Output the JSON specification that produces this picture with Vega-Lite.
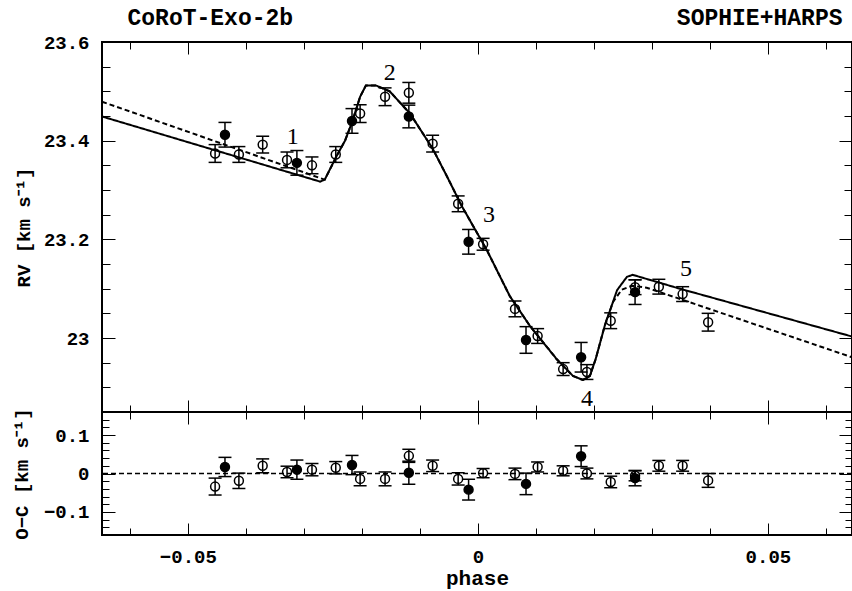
{
  "$schema": "https://vega.github.io/schema/vega-lite/v6.json",
  "background": "white",
  "padding": {"left": 11, "top": 5, "right": 0, "bottom": 0},
  "spacing": 0,
  "bounds": "flush",
  "config": {
    "view": {"stroke": "black", "strokeWidth": 2},
    "axis": {"grid": false, "domainColor": "black", "tickColor": "black", "labelColor": "black", "labelFont": "Liberation Mono", "labelFontWeight": "bold", "labelFontSize": 19, "titleColor": "black", "titleFont": "Liberation Mono", "titleFontWeight": "bold", "titleFontSize": 19, "labelFlush": false}
  },
  "datasets": {
    "obs": [
      {"phase": -0.0453, "rv": 23.374, "rvlo": 23.356, "rvhi": 23.392, "oc": -0.034, "oclo": -0.056, "ochi": -0.012, "inst": "SOPHIE"},
      {"phase": -0.0436, "rv": 23.412, "rvlo": 23.387, "rvhi": 23.437, "oc": 0.017, "oclo": -0.008, "ochi": 0.042, "inst": "HARPS"},
      {"phase": -0.0412, "rv": 23.372, "rvlo": 23.356, "rvhi": 23.388, "oc": -0.019, "oclo": -0.039, "ochi": 0.001, "inst": "SOPHIE"},
      {"phase": -0.0371, "rv": 23.392, "rvlo": 23.375, "rvhi": 23.409, "oc": 0.02, "oclo": 0.002, "ochi": 0.038, "inst": "SOPHIE"},
      {"phase": -0.0329, "rv": 23.361, "rvlo": 23.345, "rvhi": 23.377, "oc": 0.004, "oclo": -0.011, "ochi": 0.019, "inst": "SOPHIE"},
      {"phase": -0.0312, "rv": 23.355, "rvlo": 23.33, "rvhi": 23.38, "oc": 0.01, "oclo": -0.015, "ochi": 0.035, "inst": "HARPS"},
      {"phase": -0.0286, "rv": 23.35, "rvlo": 23.333, "rvhi": 23.367, "oc": 0.01, "oclo": -0.006, "ochi": 0.026, "inst": "SOPHIE"},
      {"phase": -0.0245, "rv": 23.372, "rvlo": 23.356, "rvhi": 23.388, "oc": 0.015, "oclo": -0.001, "ochi": 0.031, "inst": "SOPHIE"},
      {"phase": -0.0217, "rv": 23.44, "rvlo": 23.415, "rvhi": 23.465, "oc": 0.022, "oclo": -0.003, "ochi": 0.047, "inst": "HARPS"},
      {"phase": -0.0203, "rv": 23.455, "rvlo": 23.437, "rvhi": 23.473, "oc": -0.014, "oclo": -0.032, "ochi": 0.004, "inst": "SOPHIE"},
      {"phase": -0.016, "rv": 23.489, "rvlo": 23.471, "rvhi": 23.507, "oc": -0.014, "oclo": -0.032, "ochi": 0.004, "inst": "SOPHIE"},
      {"phase": -0.0119, "rv": 23.497, "rvlo": 23.476, "rvhi": 23.518, "oc": 0.046, "oclo": 0.029, "ochi": 0.063, "inst": "SOPHIE"},
      {"phase": -0.0119, "rv": 23.449, "rvlo": 23.426, "rvhi": 23.472, "oc": 0.002, "oclo": -0.028, "ochi": 0.032, "inst": "HARPS"},
      {"phase": -0.0078, "rv": 23.394, "rvlo": 23.377, "rvhi": 23.411, "oc": 0.02, "oclo": 0.005, "ochi": 0.035, "inst": "SOPHIE"},
      {"phase": -0.0034, "rv": 23.272, "rvlo": 23.256, "rvhi": 23.288, "oc": -0.014, "oclo": -0.03, "ochi": 0.002, "inst": "SOPHIE"},
      {"phase": -0.0016, "rv": 23.195, "rvlo": 23.17, "rvhi": 23.22, "oc": -0.042, "oclo": -0.069, "ochi": -0.015, "inst": "HARPS"},
      {"phase": 0.0009, "rv": 23.19, "rvlo": 23.178, "rvhi": 23.202, "oc": 0.001, "oclo": -0.011, "ochi": 0.013, "inst": "SOPHIE"},
      {"phase": 0.0064, "rv": 23.059, "rvlo": 23.043, "rvhi": 23.075, "oc": -0.001, "oclo": -0.016, "ochi": 0.014, "inst": "SOPHIE"},
      {"phase": 0.0083, "rv": 22.996, "rvlo": 22.969, "rvhi": 23.023, "oc": -0.027, "oclo": -0.055, "ochi": 0.001, "inst": "HARPS"},
      {"phase": 0.0103, "rv": 23.004, "rvlo": 22.989, "rvhi": 23.019, "oc": 0.017, "oclo": 0.004, "ochi": 0.03, "inst": "SOPHIE"},
      {"phase": 0.0147, "rv": 22.937, "rvlo": 22.924, "rvhi": 22.95, "oc": 0.007, "oclo": -0.006, "ochi": 0.02, "inst": "SOPHIE"},
      {"phase": 0.0178, "rv": 22.961, "rvlo": 22.931, "rvhi": 22.991, "oc": 0.045, "oclo": 0.018, "ochi": 0.072, "inst": "HARPS"},
      {"phase": 0.0188, "rv": 22.931, "rvlo": 22.916, "rvhi": 22.946, "oc": 0.0, "oclo": -0.014, "ochi": 0.014, "inst": "SOPHIE"},
      {"phase": 0.0229, "rv": 23.035, "rvlo": 23.019, "rvhi": 23.051, "oc": -0.022, "oclo": -0.037, "ochi": -0.007, "inst": "SOPHIE"},
      {"phase": 0.0271, "rv": 23.093, "rvlo": 23.068, "rvhi": 23.118, "oc": -0.012, "oclo": -0.032, "ochi": 0.008, "inst": "HARPS"},
      {"phase": 0.0271, "rv": 23.103, "rvlo": 23.088, "rvhi": 23.118, "oc": -0.006, "oclo": -0.019, "ochi": 0.007, "inst": "SOPHIE"},
      {"phase": 0.0312, "rv": 23.104, "rvlo": 23.089, "rvhi": 23.119, "oc": 0.02, "oclo": 0.006, "ochi": 0.034, "inst": "SOPHIE"},
      {"phase": 0.0353, "rv": 23.089, "rvlo": 23.074, "rvhi": 23.104, "oc": 0.02, "oclo": 0.006, "ochi": 0.034, "inst": "SOPHIE"},
      {"phase": 0.0397, "rv": 23.032, "rvlo": 23.014, "rvhi": 23.05, "oc": -0.018, "oclo": -0.036, "ochi": 0.0, "inst": "SOPHIE"}
    ],
    "model": [
      {"phase": -0.0648, "rv": 23.449, "model": "solid"},
      {"phase": -0.0272, "rv": 23.317, "model": "solid"},
      {"phase": -0.0264, "rv": 23.321, "model": "solid"},
      {"phase": -0.0243, "rv": 23.37, "model": "solid"},
      {"phase": -0.0229, "rv": 23.4, "model": "solid"},
      {"phase": -0.0217, "rv": 23.437, "model": "solid"},
      {"phase": -0.0203, "rv": 23.489, "model": "solid"},
      {"phase": -0.0193, "rv": 23.512, "model": "solid"},
      {"phase": -0.0176, "rv": 23.512, "model": "solid"},
      {"phase": -0.0152, "rv": 23.5, "model": "solid"},
      {"phase": -0.0117, "rv": 23.455, "model": "solid"},
      {"phase": -0.0078, "rv": 23.384, "model": "solid"},
      {"phase": -0.0053, "rv": 23.327, "model": "solid"},
      {"phase": -0.0028, "rv": 23.268, "model": "solid"},
      {"phase": 0.0016, "rv": 23.177, "model": "solid"},
      {"phase": 0.0055, "rv": 23.085, "model": "solid"},
      {"phase": 0.009, "rv": 23.024, "model": "solid"},
      {"phase": 0.0136, "rv": 22.957, "model": "solid"},
      {"phase": 0.0164, "rv": 22.923, "model": "solid"},
      {"phase": 0.0181, "rv": 22.915, "model": "solid"},
      {"phase": 0.0193, "rv": 22.923, "model": "solid"},
      {"phase": 0.0203, "rv": 22.957, "model": "solid"},
      {"phase": 0.0219, "rv": 23.026, "model": "solid"},
      {"phase": 0.024, "rv": 23.097, "model": "solid"},
      {"phase": 0.0257, "rv": 23.124, "model": "solid"},
      {"phase": 0.0267, "rv": 23.128, "model": "solid"},
      {"phase": 0.0348, "rv": 23.1, "model": "solid"},
      {"phase": 0.0645, "rv": 23.003, "model": "solid"},
      {"phase": -0.0648, "rv": 23.479, "model": "dashed"},
      {"phase": -0.0264, "rv": 23.321, "model": "dashed"},
      {"phase": -0.0243, "rv": 23.37, "model": "dashed"},
      {"phase": -0.0229, "rv": 23.4, "model": "dashed"},
      {"phase": -0.0217, "rv": 23.437, "model": "dashed"},
      {"phase": -0.0203, "rv": 23.489, "model": "dashed"},
      {"phase": -0.0193, "rv": 23.512, "model": "dashed"},
      {"phase": -0.0176, "rv": 23.512, "model": "dashed"},
      {"phase": -0.0152, "rv": 23.5, "model": "dashed"},
      {"phase": -0.0117, "rv": 23.455, "model": "dashed"},
      {"phase": -0.0078, "rv": 23.384, "model": "dashed"},
      {"phase": -0.0053, "rv": 23.327, "model": "dashed"},
      {"phase": -0.0028, "rv": 23.268, "model": "dashed"},
      {"phase": 0.0016, "rv": 23.177, "model": "dashed"},
      {"phase": 0.0055, "rv": 23.085, "model": "dashed"},
      {"phase": 0.009, "rv": 23.024, "model": "dashed"},
      {"phase": 0.0136, "rv": 22.957, "model": "dashed"},
      {"phase": 0.0164, "rv": 22.923, "model": "dashed"},
      {"phase": 0.0181, "rv": 22.915, "model": "dashed"},
      {"phase": 0.0193, "rv": 22.923, "model": "dashed"},
      {"phase": 0.0203, "rv": 22.957, "model": "dashed"},
      {"phase": 0.0219, "rv": 23.026, "model": "dashed"},
      {"phase": 0.0233, "rv": 23.073, "model": "dashed"},
      {"phase": 0.0248, "rv": 23.098, "model": "dashed"},
      {"phase": 0.0266, "rv": 23.106, "model": "dashed"},
      {"phase": 0.0291, "rv": 23.102, "model": "dashed"},
      {"phase": 0.0645, "rv": 22.961, "model": "dashed"}
    ],
    "labels": [
      {"phase": -0.0319, "rv": 23.408, "label": "1"},
      {"phase": -0.0152, "rv": 23.537, "label": "2"},
      {"phase": 0.0019, "rv": 23.249, "label": "3"},
      {"phase": 0.0188, "rv": 22.877, "label": "4"},
      {"phase": 0.0359, "rv": 23.139, "label": "5"}
    ]
  },
  "vconcat": [
    {
      "width": 750,
      "height": 370,
      "layer": [
        {
          "data": {"name": "obs"},
          "mark": {"type": "rule", "color": "black", "strokeWidth": 1.5, "opacity": 1},
          "encoding": {
            "x": {"field": "phase", "type": "quantitative", "scale": {"domain": [-0.0648, 0.0645], "nice": false, "zero": false}, "axis": {"orient": "bottom", "values": [-0.06, -0.05, -0.04, -0.03, -0.02, -0.01, 0, 0.01, 0.02, 0.03, 0.04, 0.05, 0.06], "ticks": true, "tickColor": "black", "tickSize": -7, "labels": false, "title": null}},
            "y": {"field": "rvlo", "type": "quantitative", "scale": {"domain": [22.85, 23.6], "nice": false, "zero": false}, "axis": {"orient": "left", "values": [22.9, 22.95, 23, 23.05, 23.1, 23.15, 23.2, 23.25, 23.3, 23.35, 23.4, 23.45, 23.5, 23.55], "ticks": true, "tickColor": "black", "tickSize": -8, "labels": false, "title": null}},
            "y2": {"field": "rvhi"}
          }
        },
        {
          "data": {"name": "obs"},
          "mark": {"type": "tick", "orient": "horizontal", "size": 13, "thickness": 1.5, "color": "black", "opacity": 1},
          "encoding": {
            "x": {"field": "phase", "type": "quantitative", "scale": {"domain": [-0.0648, 0.0645], "nice": false, "zero": false}, "axis": {"orient": "top", "values": [-0.05, 0, 0.05], "ticks": true, "tickColor": "black", "tickSize": -12, "labels": false, "title": "SOPHIE+HARPS", "titleX": 740, "titleY": -18, "titleAlign": "right", "titleBaseline": "alphabetic", "titleFontSize": 23}},
            "y": {"field": "rvhi", "type": "quantitative", "scale": {"domain": [22.85, 23.6], "nice": false, "zero": false}, "axis": {"orient": "right", "values": [22.9, 22.95, 23, 23.05, 23.1, 23.15, 23.2, 23.25, 23.3, 23.35, 23.4, 23.45, 23.5, 23.55], "ticks": true, "tickColor": "black", "tickSize": -8, "labels": false, "title": null}}
          }
        },
        {
          "data": {"name": "obs"},
          "mark": {"type": "tick", "orient": "horizontal", "size": 13, "thickness": 1.5, "color": "black", "opacity": 1},
          "encoding": {
            "x": {"field": "phase", "type": "quantitative", "scale": {"domain": [-0.0648, 0.0645], "nice": false, "zero": false}, "axis": {"orient": "top", "values": [-0.06, -0.05, -0.04, -0.03, -0.02, -0.01, 0, 0.01, 0.02, 0.03, 0.04, 0.05, 0.06], "ticks": true, "tickColor": "black", "tickSize": -7, "labels": false, "title": "CoRoT-Exo-2b", "titleX": 25, "titleY": -18, "titleAlign": "left", "titleBaseline": "alphabetic", "titleFontSize": 23}},
            "y": {"field": "rvlo", "type": "quantitative", "scale": {"domain": [22.85, 23.6], "nice": false, "zero": false}, "axis": {"orient": "right", "values": [23, 23.2, 23.4, 23.6], "ticks": true, "tickColor": "black", "tickSize": -13, "labels": false, "title": null}}
          }
        },
        {
          "data": {"name": "model"},
          "mark": {"type": "line", "color": "black", "strokeWidth": 2, "opacity": 1},
          "encoding": {
            "x": {"field": "phase", "type": "quantitative", "scale": {"domain": [-0.0648, 0.0645], "nice": false, "zero": false}, "axis": {"orient": "bottom", "values": [-0.05, 0, 0.05], "ticks": true, "tickColor": "black", "tickSize": -12, "labels": false, "title": null}},
            "y": {"field": "rv", "type": "quantitative", "scale": {"domain": [22.85, 23.6], "nice": false, "zero": false}, "axis": null},
            "strokeDash": {"field": "model", "type": "nominal", "scale": {"domain": ["solid", "dashed"], "range": [[1, 0], [5, 3]]}, "legend": null}
          }
        },
        {
          "data": {"name": "obs"},
          "mark": {"type": "point", "shape": "circle", "size": 80, "filled": true, "stroke": "black", "strokeWidth": 1.5, "opacity": 1},
          "encoding": {
            "x": {"field": "phase", "type": "quantitative", "scale": {"domain": [-0.0648, 0.0645], "nice": false, "zero": false}, "axis": null},
            "y": {"field": "rv", "type": "quantitative", "scale": {"domain": [22.85, 23.6], "nice": false, "zero": false}, "axis": {"orient": "left", "values": [23, 23.2, 23.4, 23.6], "format": "~g", "ticks": true, "tickColor": "black", "tickSize": -13, "labels": true, "labelPadding": 26, "title": "RV [km s⁻¹]", "titleX": -79, "titleY": 185, "titleAngle": -90, "titleAlign": "center", "titleBaseline": "middle"}},
            "fill": {"field": "inst", "type": "nominal", "scale": {"domain": ["HARPS", "SOPHIE"], "range": ["black", "rgba(0,0,0,0)"]}, "legend": null}
          }
        },
        {
          "data": {"name": "labels"},
          "mark": {"type": "text", "font": "Liberation Serif", "fontSize": 24, "align": "center", "baseline": "middle", "color": "black"},
          "encoding": {
            "x": {"field": "phase", "type": "quantitative", "scale": {"domain": [-0.0648, 0.0645], "nice": false, "zero": false}, "axis": null},
            "y": {"field": "rv", "type": "quantitative", "scale": {"domain": [22.85, 23.6], "nice": false, "zero": false}, "axis": null},
            "text": {"field": "label", "type": "nominal"}
          }
        }
      ],
      "resolve": {"axis": {"x": "independent", "y": "independent"}}
    },
    {
      "width": 750,
      "height": 123,
      "layer": [
        {
          "data": {"values": [{}]},
          "mark": {"type": "rule", "color": "black", "strokeWidth": 1.5, "strokeDash": [5, 3]},
          "encoding": {
            "y": {"datum": 0, "type": "quantitative", "scale": {"domain": [-0.16, 0.16], "nice": false, "zero": false}, "axis": null}
          }
        },
        {
          "data": {"name": "obs"},
          "mark": {"type": "rule", "color": "black", "strokeWidth": 1.5, "opacity": 1},
          "encoding": {
            "x": {"field": "phase", "type": "quantitative", "scale": {"domain": [-0.0648, 0.0645], "nice": false, "zero": false}, "axis": {"orient": "bottom", "values": [-0.06, -0.05, -0.04, -0.03, -0.02, -0.01, 0, 0.01, 0.02, 0.03, 0.04, 0.05, 0.06], "ticks": true, "tickColor": "black", "tickSize": -7, "labels": false, "title": null}},
            "y": {"field": "oclo", "type": "quantitative", "scale": {"domain": [-0.16, 0.16], "nice": false, "zero": false}, "axis": {"orient": "left", "values": [-0.14, -0.12, -0.1, -0.08, -0.06, -0.04, -0.02, 0, 0.02, 0.04, 0.06, 0.08, 0.1, 0.12, 0.14], "ticks": true, "tickColor": "black", "tickSize": -7, "labels": false, "title": null}},
            "y2": {"field": "ochi"}
          }
        },
        {
          "data": {"name": "obs"},
          "mark": {"type": "tick", "orient": "horizontal", "size": 13, "thickness": 1.5, "color": "black", "opacity": 1},
          "encoding": {
            "x": {"field": "phase", "type": "quantitative", "scale": {"domain": [-0.0648, 0.0645], "nice": false, "zero": false}, "axis": {"orient": "top", "values": [-0.05, 0, 0.05], "ticks": true, "tickColor": "black", "tickSize": -12, "labels": false, "title": null}},
            "y": {"field": "ochi", "type": "quantitative", "scale": {"domain": [-0.16, 0.16], "nice": false, "zero": false}, "axis": {"orient": "right", "values": [-0.14, -0.12, -0.1, -0.08, -0.06, -0.04, -0.02, 0, 0.02, 0.04, 0.06, 0.08, 0.1, 0.12, 0.14], "ticks": true, "tickColor": "black", "tickSize": -7, "labels": false, "title": null}}
          }
        },
        {
          "data": {"name": "obs"},
          "mark": {"type": "tick", "orient": "horizontal", "size": 13, "thickness": 1.5, "color": "black", "opacity": 1},
          "encoding": {
            "x": {"field": "phase", "type": "quantitative", "scale": {"domain": [-0.0648, 0.0645], "nice": false, "zero": false}, "axis": {"orient": "top", "values": [-0.06, -0.05, -0.04, -0.03, -0.02, -0.01, 0, 0.01, 0.02, 0.03, 0.04, 0.05, 0.06], "ticks": true, "tickColor": "black", "tickSize": -7, "labels": false, "title": null}},
            "y": {"field": "oclo", "type": "quantitative", "scale": {"domain": [-0.16, 0.16], "nice": false, "zero": false}, "axis": {"orient": "right", "values": [-0.1, 0, 0.1], "ticks": true, "tickColor": "black", "tickSize": -13, "labels": false, "title": null}}
          }
        },
        {
          "data": {"name": "obs"},
          "mark": {"type": "point", "shape": "circle", "size": 80, "filled": true, "stroke": "black", "strokeWidth": 1.5, "opacity": 1},
          "encoding": {
            "x": {"field": "phase", "type": "quantitative", "scale": {"domain": [-0.0648, 0.0645], "nice": false, "zero": false}, "axis": {"orient": "bottom", "values": [-0.05, 0, 0.05], "format": "~g", "ticks": true, "tickColor": "black", "tickSize": -12, "labels": true, "labelPadding": 24, "title": "phase", "titleFontSize": 21, "titleX": 375, "titleY": 49, "titleAlign": "center", "titleBaseline": "alphabetic"}},
            "y": {"field": "oc", "type": "quantitative", "scale": {"domain": [-0.16, 0.16], "nice": false, "zero": false}, "axis": {"orient": "left", "values": [-0.1, 0, 0.1], "format": "~g", "ticks": true, "tickColor": "black", "tickSize": -13, "labels": true, "labelPadding": 26, "title": "O−C [km s⁻¹]", "titleX": -81, "titleY": 61.5, "titleAngle": -90, "titleAlign": "center", "titleBaseline": "middle"}},
            "fill": {"field": "inst", "type": "nominal", "scale": {"domain": ["HARPS", "SOPHIE"], "range": ["black", "rgba(0,0,0,0)"]}, "legend": null}
          }
        }
      ],
      "resolve": {"axis": {"x": "independent", "y": "independent"}}
    }
  ]
}
